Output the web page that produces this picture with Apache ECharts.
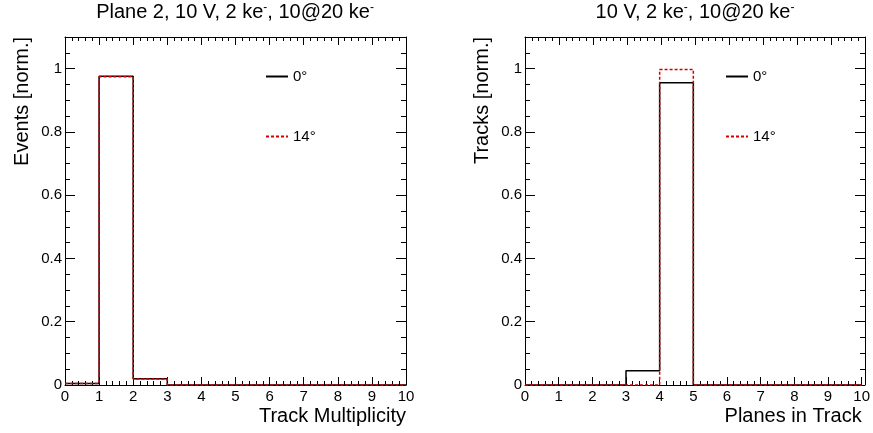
<!DOCTYPE html>
<html>
<head>
<meta charset="utf-8">
<script src="https://cdn.jsdelivr.net/npm/echarts@6/dist/echarts.min.js"></script>
<style>
  html, body { margin: 0; padding: 0; background: #fff; }
  #chart { width: 873px; height: 433px; }
</style>
</head>
<body>
<div id="chart"></div>
<script>
// Bin lower edges (unit-width bins from 0 to 10)
const binStarts = [0, 1, 2, 3, 4, 5, 6, 7, 8, 9];
const binEnd = 10;

// Track multiplicity per event, normalised
const multiplicity0deg  = [0.005, 0.976, 0.020, 0, 0, 0, 0, 0, 0, 0];
const multiplicity14deg = [0.005, 0.974, 0.019, 0, 0, 0, 0, 0, 0, 0];

// Number of planes contributing to a track, normalised
const planes0deg  = [0, 0, 0, 0.045, 0.955, 0, 0, 0, 0, 0];
const planes14deg = [0, 0, 0, 0, 0.997, 0, 0, 0, 0, 0];

const yMajorTicks = [0, 0.2, 0.4, 0.6, 0.8, 1];
const seriesNames = ['0\u00b0', '14\u00b0'];

const Y_MAX = 1.1;
const FONT = "'Liberation Sans', Arial, Helvetica, sans-serif";
const BLACK = '#000';
const RED = '#d40000';

// Turn per-bin contents into a stepped outline (horizontal top of each bin)
function histOutline(values) {
  const pts = binStarts.map((x, i) => [x, values[i]]);
  pts.push([binEnd, values[values.length - 1]]);
  return pts;
}

const padRects = [
  { left: 65, right: 467, top: 37, bottom: 48 },
  { left: 525, right: 8, top: 37, bottom: 48 }
];

// Each pad gets a main grid (bottom/left axes) and an overlaid mirror grid
// (top/right axes, reversed so their zero sits on the top/right edge).
const grids = [];
const xAxes = [];
const yAxes = [];
const mainX = [];
const mainY = [];

const frameLine = { show: true, lineStyle: { color: BLACK, width: 1 } };

function addPad(rect, xName, yName) {
  const gMain = grids.length;
  grids.push(Object.assign({}, rect));
  const gMirror = grids.length;
  grids.push(Object.assign({}, rect));

  // bottom x axis with labels and title
  mainX.push(xAxes.length);
  xAxes.push({
    gridIndex: gMain, type: 'value', min: 0, max: 10, interval: 1, position: 'bottom',
    axisLine: frameLine,
    axisTick: { show: true, inside: true, length: 8, lineStyle: { color: BLACK } },
    minorTick: { show: true, splitNumber: 5, length: 4, lineStyle: { color: BLACK } },
    axisLabel: { show: true, fontSize: 15, color: BLACK, fontFamily: FONT, margin: 4 },
    splitLine: { show: false },
    name: xName, nameLocation: 'end', nameGap: 0,
    nameTextStyle: { fontSize: 20, color: BLACK, fontFamily: FONT, align: 'right', verticalAlign: 'top', padding: [21, 0, 0, 0] }
  });
  // top mirror x axis
  xAxes.push({
    gridIndex: gMirror, type: 'value', min: 0, max: 10, interval: 1, position: 'top', inverse: true,
    axisLine: frameLine,
    axisTick: { show: true, inside: true, length: 8, lineStyle: { color: BLACK } },
    minorTick: { show: true, splitNumber: 5, length: 4, lineStyle: { color: BLACK } },
    axisLabel: { show: false }, splitLine: { show: false }
  });

  // left y axis: major ticks + labels + title
  mainY.push(yAxes.length);
  yAxes.push({
    gridIndex: gMain, type: 'value', min: 0, max: Y_MAX, interval: 0.2, position: 'left',
    axisLine: frameLine,
    axisTick: { show: true, inside: true, length: 10, customValues: yMajorTicks, lineStyle: { color: BLACK } },
    axisLabel: {
      show: true, customValues: yMajorTicks, fontSize: 15, color: BLACK, fontFamily: FONT, margin: 3,
      formatter: (v) => String(Math.round(v * 10) / 10)
    },
    splitLine: { show: false },
    name: yName, nameLocation: 'end', nameRotate: 90, nameGap: 0,
    nameTextStyle: { fontSize: 20, color: BLACK, fontFamily: FONT, align: 'right', verticalAlign: 'bottom', padding: [0, 0, 33, 0] }
  });
  // left minor ticks every 0.05
  yAxes.push({
    gridIndex: gMain, type: 'value', min: 0, max: Y_MAX, interval: 0.05, position: 'left',
    axisLine: { show: false },
    axisTick: { show: true, inside: true, length: 5, lineStyle: { color: BLACK } },
    axisLabel: { show: false }, splitLine: { show: false }
  });
  // right mirror y axis (reversed scale, so major ticks are placed at Y_MAX - v)
  yAxes.push({
    gridIndex: gMirror, type: 'value', min: 0, max: Y_MAX, interval: 0.05, position: 'right', inverse: true,
    axisLine: frameLine,
    axisTick: {
      show: true, inside: true, length: 10, lineStyle: { color: BLACK },
      customValues: yMajorTicks.map((v) => Math.round((Y_MAX - v) * 100) / 100)
    },
    axisLabel: { show: false }, splitLine: { show: false }
  });
  yAxes.push({
    gridIndex: gMirror, type: 'value', min: 0, max: Y_MAX, interval: 0.05, position: 'right', inverse: true,
    axisLine: { show: false },
    axisTick: { show: true, inside: true, length: 5, lineStyle: { color: BLACK } },
    axisLabel: { show: false }, splitLine: { show: false }
  });
}

addPad(padRects[0], 'Track Multiplicity', 'Events [norm.]');
addPad(padRects[1], 'Planes in Track', 'Tracks [norm.]');

function histSeries(name, values, pad, color, dashed) {
  return {
    name: name, type: 'line', step: 'end',
    xAxisIndex: mainX[pad], yAxisIndex: mainY[pad],
    data: histOutline(values),
    symbol: 'none', showSymbol: false, clip: false, silent: true,
    lineStyle: { color: color, width: 1.5, type: dashed ? [3, 2] : 'solid' },
    itemStyle: { color: color },
    animation: false
  };
}

const titleRich = { sup: { fontSize: 12, verticalAlign: 'top', color: BLACK, fontFamily: FONT } };

function legendAt(left) {
  return {
    data: seriesNames, left: left, top: 64, orient: 'vertical', itemGap: 45,
    itemWidth: 22, itemHeight: 14, selectedMode: false,
    itemStyle: { opacity: 0 },
    textStyle: { fontSize: 15, color: BLACK, fontFamily: FONT }
  };
}

const option = {
  backgroundColor: '#fff',
  animation: false,
  title: [
    {
      text: 'Plane 2, 10 V, 2 ke{sup|-}, 10@20 ke{sup|-}',
      left: 235, top: 2, padding: 0, textAlign: 'center',
      textStyle: { fontSize: 20, fontWeight: 'normal', color: BLACK, fontFamily: FONT, rich: titleRich }
    },
    {
      text: '10 V, 2 ke{sup|-}, 10@20 ke{sup|-}',
      left: 695, top: 2, padding: 0, textAlign: 'center',
      textStyle: { fontSize: 20, fontWeight: 'normal', color: BLACK, fontFamily: FONT, rich: titleRich }
    }
  ],
  legend: [legendAt(260), legendAt(720)],
  grid: grids,
  xAxis: xAxes,
  yAxis: yAxes,
  series: [
    histSeries(seriesNames[0], multiplicity0deg, 0, BLACK, false),
    histSeries(seriesNames[1], multiplicity14deg, 0, RED, true),
    histSeries(seriesNames[0], planes0deg, 1, BLACK, false),
    histSeries(seriesNames[1], planes14deg, 1, RED, true)
  ]
};

const chart = echarts.init(document.getElementById('chart'), null, { renderer: 'canvas' });
chart.setOption(option);
</script>
</body>
</html>
